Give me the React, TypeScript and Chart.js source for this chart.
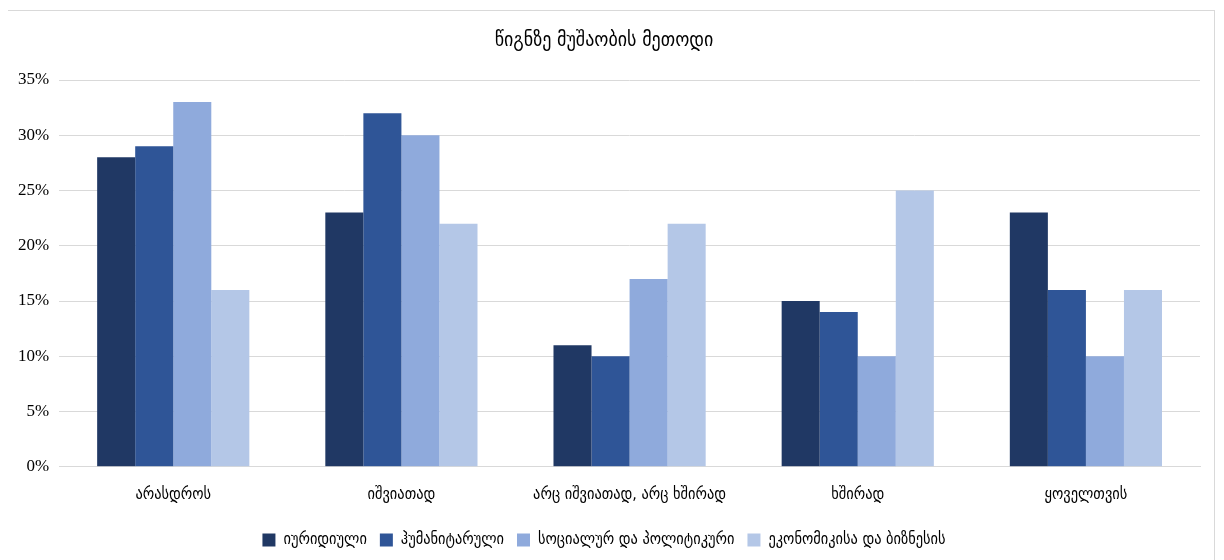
import React, { useEffect, useRef } from "react";
import { Chart, registerables } from "chart.js";

Chart.register(...registerables);

const title = "წიგნზე მუშაობის მეთოდი";
const categories = ["არასდროს", "იშვიათად", "არც იშვიათად, არც ხშირად", "ხშირად", "ყოველთვის"];
const seriesNames = ["იურიდიული", "ჰუმანიტარული", "სოციალურ და პოლიტიკური", "ეკონომიკისა და ბიზნესის"];
const series1 = [28, 23, 11, 15, 23];
const series2 = [29, 32, 10, 14, 16];
const series3 = [33, 30, 17, 10, 10];
const series4 = [16, 22, 22, 25, 16];
const colors = ["#203864", "#2F5597", "#8FAADC", "#B4C7E7"];

const FONT = "'DejaVu Sans Condensed', 'DejaVu Sans', sans-serif";
const TICKFONT = "'Liberation Serif', 'DejaVu Serif', serif";

export default function App() {
  const ref = useRef<HTMLCanvasElement | null>(null);
  useEffect(() => {
    if (!ref.current) return;
    const data = [series1, series2, series3, series4];
    const chart = new Chart(ref.current, {
      type: "bar",
      data: {
        labels: categories,
        datasets: seriesNames.map((n, i) => ({
          label: n,
          data: data[i],
          backgroundColor: colors[i],
          borderWidth: 0,
          categoryPercentage: 0.667,
          barPercentage: 1,
        })),
      },
      options: {
        animation: false,
        responsive: true,
        maintainAspectRatio: false,
        layout: { padding: { left: 0, right: 14, top: 8, bottom: 3 } },
        plugins: {
          title: {
            display: true,
            text: title,
            color: "#000",
            font: { family: FONT, size: 20, weight: "normal" },
            padding: { top: 10, bottom: 27 },
          },
          legend: {
            position: "bottom",
            labels: {
              color: "#000",
              boxWidth: 13,
              boxHeight: 13,
              padding: 13,
              font: { family: FONT, size: 16 },
            },
          },
          tooltip: { enabled: false },
        },
        scales: {
          x: {
            grid: { display: false, drawTicks: false },
            border: { color: "#d9d9d9" },
            ticks: { color: "#000", font: { family: FONT, size: 16 }, padding: 18 },
            afterFit: (s: any) => {
              s.height -= 3;
            },
          },
          y: {
            min: 0,
            max: 35,
            grid: { color: "#d9d9d9", drawTicks: false },
            border: { display: false },
            ticks: {
              stepSize: 5,
              color: "#000",
              padding: 10,
              font: { family: TICKFONT, size: 17 },
              callback: (v: any) => v + "%",
            },
          },
        },
      },
    });
    return () => chart.destroy();
  }, []);
  return (
    <div style={{ width: 1208, height: 552, border: "1px solid #d9d9d9", boxSizing: "border-box", position: "relative", marginTop: 2, marginLeft: -1 }}>
      <canvas ref={ref} />
    </div>
  );
}
